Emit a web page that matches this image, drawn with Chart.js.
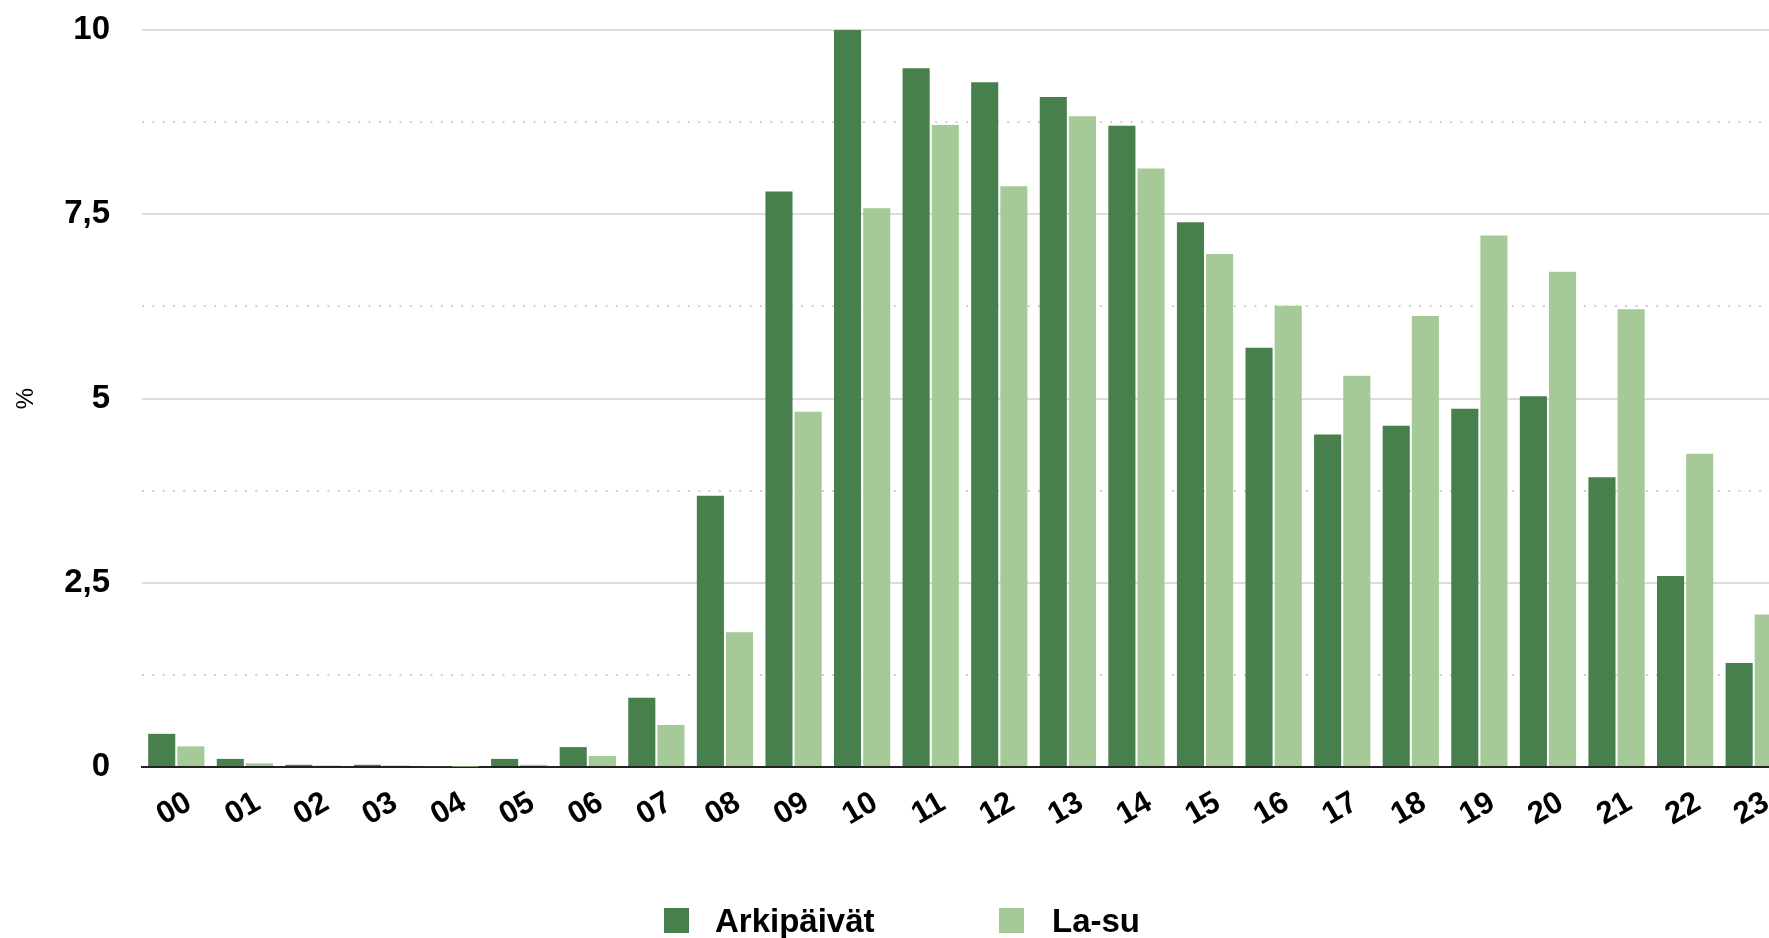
<!DOCTYPE html>
<html>
<head>
<meta charset="utf-8">
<script src="https://cdn.jsdelivr.net/npm/chart.js@4.4.1/dist/chart.umd.min.js"></script>
<style>
  html, body { margin:0; padding:0; background:#fff; overflow:hidden; }
  #wrap { position:relative; width:1769px; height:938px; overflow:hidden; }
  #chart { position:absolute; left:0; top:0; }
  .lg-box { position:absolute; width:25px; height:25px; }
  .lg-txt { position:absolute; font:bold 33px "Liberation Sans", Arial, sans-serif; color:#000; line-height:1; }
</style>
</head>
<body>
<div id="wrap">
  <canvas id="chart" width="1800" height="938"></canvas>
  <div class="lg-box" style="left:664px;top:908px;background:#48804d"></div>
  <div class="lg-txt" id="lg1" style="left:715px;top:904px"></div>
  <div class="lg-box" style="left:999px;top:908px;background:#a5ca97"></div>
  <div class="lg-txt" id="lg2" style="left:1052px;top:904px"></div>
</div>
<script>
// data
const hours = ['00','01','02','03','04','05','06','07','08','09','10','11','12','13','14','15','16','17','18','19','20','21','22','23'];
const seriesNames = ['Arkipäivät', 'La-su'];
const weekday = [0.45,0.11,0.03,0.03,0.01,0.11,0.27,0.94,3.68,7.81,10.0,9.48,9.29,9.09,8.70,7.39,5.69,4.51,4.63,4.86,5.03,3.93,2.59,1.41];
const weekend = [0.28,0.05,0.02,0.02,0.005,0.03,0.15,0.57,1.83,4.82,7.58,8.71,7.88,8.83,8.12,6.96,6.26,5.31,6.12,7.21,6.72,6.21,4.25,2.07];
const yTicks = [0, 2.5, 5, 7.5, 10];
const yMinor = [1.25, 3.75, 6.25, 8.75];

const DARK = '#48804d';
const LIGHT = '#a5ca97';
const FONT = '"Liberation Sans", Arial, sans-serif';

document.getElementById('lg1').textContent = seriesNames[0];
document.getElementById('lg2').textContent = seriesNames[1];

// rotated hour labels, centred on the tick
const hourLabels = {
  id: 'hourLabels',
  afterDraw(chart){
    const xs = chart.scales.x;
    const ctx = chart.ctx;
    ctx.save();
    ctx.font = 'bold 31px ' + FONT;
    ctx.fillStyle = '#000';
    ctx.textAlign = 'center';
    ctx.textBaseline = 'middle';
    hours.forEach((h, i)=>{
      const x = xs.getPixelForTick(i);
      ctx.save();
      ctx.translate(x - 2, xs.top + 42);
      ctx.rotate(-Math.PI/6);
      ctx.fillText(h, 0, 0);
      ctx.restore();
    });
    ctx.restore();
  }
};

function noPad(s){
  s.paddingTop = 0;
  s.paddingBottom = 0;
}

new Chart(document.getElementById('chart').getContext('2d'), {
  type: 'bar',
  data: {
    labels: hours,
    datasets: [
      { label: seriesNames[0], data: weekday, backgroundColor: DARK, borderWidth: 0 },
      { label: seriesNames[1], data: weekend, backgroundColor: LIGHT, borderWidth: 0 }
    ]
  },
  options: {
    responsive: false,
    animation: false,
    categoryPercentage: 0.85,
    barPercentage: 0.93,
    layout: { padding: { top: 30, right: 12, bottom: 171, left: 0 } },
    plugins: { legend: { display: false }, tooltip: { enabled: false } },
    scales: {
      x: {
        grid: { display: false, drawTicks: false },
        border: { display: true, color: '#222', width: 2 },
        ticks: { display: false },
        afterFit: s => { s.height = 0; }
      },
      y: {
        min: 0, max: 10,
        afterBuildTicks: s => { s.ticks = yTicks.map(v => ({ value: v })); },
        afterFit: s => { s.width = 142; noPad(s); },
        border: { display: false },
        grid: {
          drawTicks: false,
          lineWidth: 2,
          color: c => (c.tick && c.tick.value === 0) ? 'rgba(0,0,0,0)' : '#dcdcdc'
        },
        ticks: {
          padding: 32,
          color: '#000',
          font: { family: FONT, size: 33, weight: 'bold' },
          callback: v => String(v).replace('.', ',')
        },
        title: {
          display: true, text: '%', color: '#000',
          font: { family: FONT, size: 24 },
          padding: { top: 12, bottom: 0 }
        }
      },
      y2: {
        position: 'left',
        min: 0, max: 10,
        afterBuildTicks: s => { s.ticks = yMinor.map(v => ({ value: v })); },
        afterFit: s => { s.width = 0; noPad(s); },
        border: { display: false, dash: [2, 8.3] },
        grid: { drawTicks: false, lineWidth: 2, color: '#cfcfcf' },
        ticks: { display: false }
      }
    }
  },
  plugins: [hourLabels]
});
</script>
</body>
</html>
